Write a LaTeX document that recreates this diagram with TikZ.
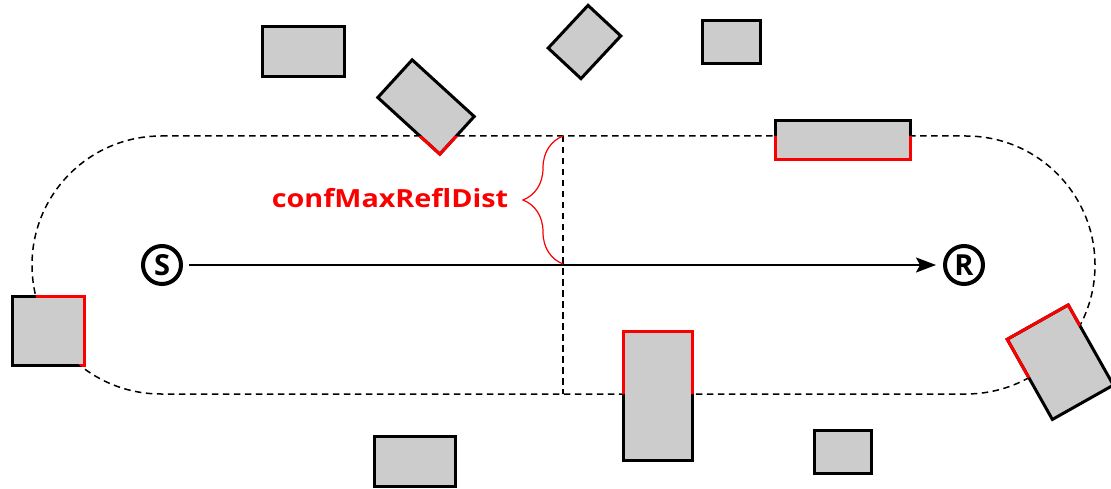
\documentclass[tikz,border=0pt]{standalone}
\usepackage{fontspec}
\setmainfont{Open Sans}
\usetikzlibrary{arrows.meta,decorations.pathreplacing}
\definecolor{boxgray}{RGB}{204,204,204}
\definecolor{hitred}{RGB}{250,0,0}
\tikzset{
  obstacle/.style={draw=black, fill=boxgray, line width=3pt, line join=miter},
  hitedge/.style={draw=hitred, line width=3pt},
  zone/.style={draw=black, line width=1.5pt, dash pattern=on 6.5pt off 4.5pt},
  endpoint/.style={circle, draw=black, line width=4pt, minimum size=38pt, inner sep=0pt,
    font=\fontsize{29}{29}\selectfont\bfseries},
}
% stadium-shaped reflection zone around the direct path
\newcommand{\zonepath}{(161,352) -- (966,352) arc[start angle=90,end angle=-90,radius=129]
  -- (161,94) arc[start angle=270,end angle=90,radius=129] -- cycle}
\begin{document}
\begin{tikzpicture}[x=1pt,y=1pt]
\useasboundingbox (0,0) rectangle (1111,488);

% zone outline and mid-line
\draw[zone] \zonepath;
\draw[zone] (563,352) -- (563,94);

% obstacles
\draw[obstacle] (262.5,411.5) rectangle (344.5,461.5);
\begin{scope}[shift={(426,381)},rotate=-42.4]
  \draw[obstacle] (-42,-25.5) rectangle (42,25.5);
\end{scope}
\begin{scope}[shift={(584.5,446)},rotate=47]
  \draw[obstacle] (-29.2,-22.4) rectangle (29.2,22.4);
\end{scope}
\draw[obstacle] (702.5,424.5) rectangle (760.5,467.5);
\draw[obstacle] (775.5,328.5) rectangle (910.5,367.5);
\draw[obstacle] (12.5,122.5) rectangle (84.5,191.5);
\draw[obstacle] (623.5,27.5) rectangle (692.5,156.5);
\begin{scope}[shift={(1060.3,125.8)},rotate=29.4]
  \draw[obstacle] (-35,-46) rectangle (35,46);
\end{scope}
\draw[obstacle] (374.5,1.5) rectangle (455.5,51.5);
\draw[obstacle] (814.5,14.5) rectangle (871.5,57.5);

% obstacle edges lying inside the zone
\begin{scope}
  \clip \zonepath;
  \begin{scope}[shift={(426,381)},rotate=-42.4]
    \draw[hitedge] (-42,-25.5) rectangle (42,25.5);
  \end{scope}
  \draw[hitedge] (775.5,328.5) rectangle (910.5,367.5);
  \draw[hitedge] (12.5,122.5) rectangle (84.5,191.5);
  \draw[hitedge] (623.5,27.5) rectangle (692.5,156.5);
  \begin{scope}[shift={(1060.3,125.8)},rotate=29.4]
    \draw[hitedge] (-35,-46) rectangle (35,46);
  \end{scope}
\end{scope}

% sender, receiver and direct path
\node[endpoint] (S) at (162,223) {S};
\node[endpoint] (R) at (964,223) {R};
\draw[line width=2pt, -{Stealth[length=20pt,width=15pt,inset=4pt]}, shorten <=6pt, shorten >=7pt] (S) -- (R);

% maximum reflection distance
\draw[hitred, line width=1.2pt, decorate, decoration={brace, amplitude=40pt}] (563,224) -- (563,352);
\node[text=hitred, font=\fontsize{25}{25}\selectfont\bfseries] (dist) at (390,290)
  {\scalebox{1.15}[1]{confMaxReflDist}};
\end{tikzpicture}
\end{document}
